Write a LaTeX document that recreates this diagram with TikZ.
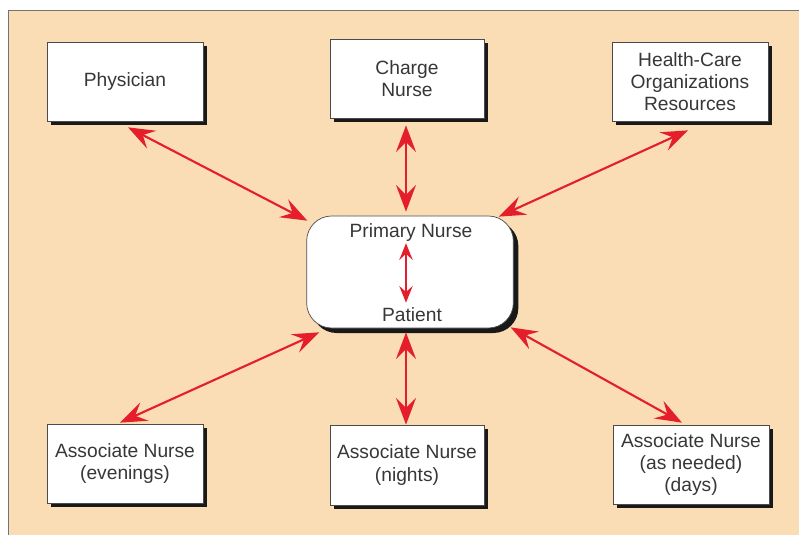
\documentclass[tikz,border=0pt]{standalone}
\usepackage{fontspec}
\setmainfont{Liberation Sans}
\usetikzlibrary{calc,shadows,arrows.meta}
\definecolor{peach}{RGB}{250,221,180}
\definecolor{arrowred}{RGB}{228,30,42}
\definecolor{ink}{RGB}{55,55,55}

\begin{document}
\begin{tikzpicture}[x=0.03cm,y=-0.03cm,
  card/.style={draw=ink!90,line width=0.6pt,fill=white,text=ink,align=center,
    minimum width=4.68cm,minimum height=2.37cm,inner sep=2pt,
    drop shadow={shadow xshift=0.12cm,shadow yshift=-0.12cm,opacity=1,fill=black!90}},
  hub/.style={draw=ink!90,line width=0.6pt,fill=white,rounded corners=0.75cm,
    minimum width=6.2cm,minimum height=3.36cm,
    drop shadow={shadow xshift=0.15cm,shadow yshift=-0.15cm,opacity=1,fill=black!90}},
  label/.style={text=ink,inner sep=0pt},
  link/.style={arrowred,line width=1.8pt,
    {Stealth[length=0.8cm,width=0.6cm,inset=0.3cm]}-{Stealth[length=0.8cm,width=0.6cm,inset=0.3cm]}},
  shortlink/.style={arrowred,line width=1.6pt,
    {Stealth[length=0.5cm,width=0.4cm,inset=0.18cm]}-{Stealth[length=0.5cm,width=0.4cm,inset=0.18cm]}}]
\fontsize{16.4}{19}\selectfont
\useasboundingbox (0,0) rectangle (799,535);
\filldraw[fill=peach,draw=ink!70,line width=0.6pt] (8,10) rectangle (830,560);
\node[hub] (prim) at (410,272) {};
\node[label] (pn) at (411,233) {Primary Nurse};
\node[label] (pt) at (412,315) {Patient};
\node[card] (phys) at (125,81.5) {Physician};
\node[card,minimum width=4.62cm] (charge) at (407,78.5) {Charge\\Nurse};
\node[card] (hcare) at (690,81.5) {Health-Care\\Organizations\\Resources};
\node[card] (eve) at (125,463.5) {Associate Nurse\\(evenings)};
\node[card,minimum width=4.62cm,minimum height=2.4cm] (night) at (407,465) {Associate Nurse\\(nights)};
\node[card] (need) at (691,464.5) {Associate Nurse\\(as needed)\\(days)};
\draw[shortlink] ($(pn.south)+(-5,1)$) -- ($(pt.north)+(-6,-5)$);
\draw[link] ($(phys.south)+(3,6)$) -- ($(prim.north west)+(1,5)$);
\draw[link] ($(charge.south)+(-1,7)$) -- ($(prim.north)+(-4,-4)$);
\draw[link] ($(hcare.south)+(-2,9)$) -- ($(prim.north east)+(-15,1)$);
\draw[link] ($(prim.south west)+(13,4)$) -- ($(eve.north)+(-5,-1)$);
\draw[link] ($(prim.south)+(-4,4)$) -- ($(night.north)+(-1,0)$);
\draw[link] ($(prim.south east)+(-3,-1)$) -- ($(need.north)+(-9,-2)$);
\end{tikzpicture}
\end{document}
